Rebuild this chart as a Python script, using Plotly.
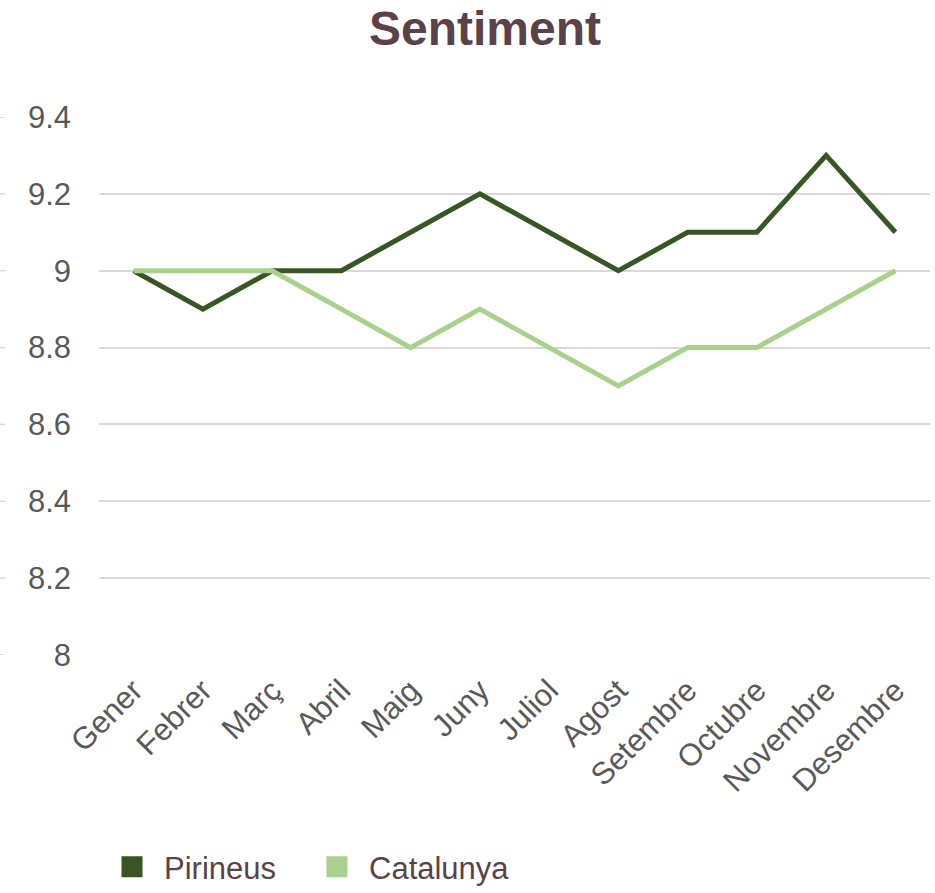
import plotly.graph_objects as go

months = ["Gener", "Febrer", "Març", "Abril", "Maig", "Juny", "Juliol",
          "Agost", "Setembre", "Octubre", "Novembre", "Desembre"]
pirineus = [9.0, 8.9, 9.0, 9.0, 9.1, 9.2, 9.1, 9.0, 9.1, 9.1, 9.3, 9.1]
catalunya = [9.0, 9.0, 9.0, 8.9, 8.8, 8.9, 8.8, 8.7, 8.8, 8.8, 8.9, 9.0]
y_ticks = [8.0, 8.2, 8.4, 8.6, 8.8, 9.0, 9.2, 9.4]
y_tick_text = ["8", "8.2", "8.4", "8.6", "8.8", "9", "9.2", "9.4"]

C_PIR = "#375623"
C_CAT = "#a9d18e"
TXT = "#5b4148"
TICK = "#595959"
GRID = "#d9d9d9"
FONT = "Liberation Sans, Arial, sans-serif"

W, H = 935, 893
L, R, T, B = 99, 5, 117, 238
plot_w = W - L - R

fig = go.Figure()
fig.add_trace(go.Scatter(x=months, y=pirineus, mode="lines", name="Pirineus",
                         line=dict(color=C_PIR, width=5), showlegend=False))
fig.add_trace(go.Scatter(x=months, y=catalunya, mode="lines", name="Catalunya",
                         line=dict(color=C_CAT, width=5), showlegend=False))
# legend entries with square swatches
for name, col in [("Pirineus", C_PIR), ("Catalunya", C_CAT)]:
    fig.add_trace(go.Scatter(x=[None], y=[None], mode="markers", name=name,
                             marker=dict(symbol="square", size=16, color=col,
                                         line=dict(color=col, width=5))))

# small grid stubs at far left
for v in y_ticks:
    fig.add_shape(type="line", xref="paper", yref="y",
                  x0=-L / plot_w, x1=-(L - 5) / plot_w, y0=v, y1=v,
                  line=dict(color=GRID, width=1.5))

fig.update_layout(
    width=W, height=H,
    margin=dict(l=L, r=R, t=T, b=B, autoexpand=False),
    paper_bgcolor="white", plot_bgcolor="white",
    title=dict(text="<b>Sentiment</b>", x=485 / W, xref="container", xanchor="center",
               y=1 - 28 / H, yref="container", yanchor="middle",
               font=dict(family=FONT, size=48, color=TXT)),
    showlegend=True,
    legend=dict(orientation="h", xref="container", yref="container",
                x=100 / W, y=1 - 867 / H, xanchor="left", yanchor="middle",
                font=dict(family=FONT, size=31, color=TXT),
                itemsizing="trace", itemwidth=54, entrywidth=136, traceorder="normal"),
    font=dict(family=FONT),
)
fig.update_xaxes(type="category", range=[-0.5, 11.5], showgrid=False, zeroline=False,
                 showline=False, ticks="", tickangle=-45, ticklabelstandoff=10,
                 automargin=False,
                 tickfont=dict(family=FONT, size=31, color=TICK))
fig.update_yaxes(range=[8.0, 9.4], tickvals=y_ticks, ticktext=y_tick_text,
                 showgrid=True, gridcolor=GRID, gridwidth=1.5, zeroline=False,
                 showline=False, ticks="", ticklabelstandoff=27, automargin=False,
                 tickfont=dict(family=FONT, size=31, color=TICK))

fig.write_html("out.html", config={"displayModeBar": False},
               post_script="document.body.style.margin='0';")
